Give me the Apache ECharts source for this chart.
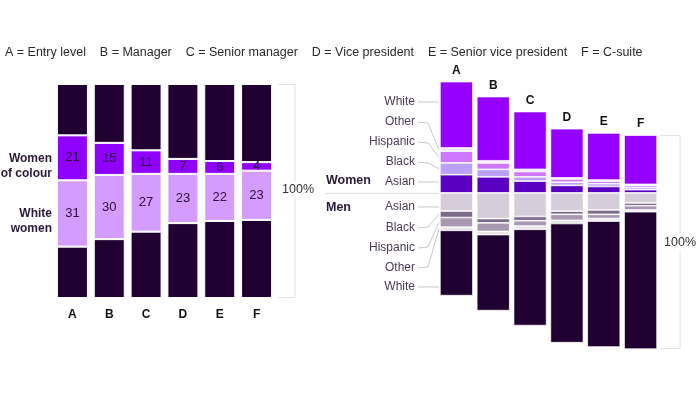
<!DOCTYPE html>
<html><head><meta charset="utf-8">
<script src="https://cdn.jsdelivr.net/npm/echarts@6/dist/echarts.min.js"></script>
<style>html,body{margin:0;padding:0;background:#fff}#c{width:698px;height:399px}</style>
</head><body><div id="c"></div>
<script>
// ---------- data ----------
const categories = ['A','B','C','D','E','F'];
const levelNames = ['Entry level','Manager','Senior manager','Vice president','Senior vice president','C-suite'];
// left chart (% of employees)
const womenOfColour = [21,15,11,7,6,4];
const whiteWomen = [31,30,27,23,22,23];
const menShare = [48,55,62,70,72,73];
// right chart: women by race (%)
const womenWhite = [31,30,27,23,22,23];
const womenOther = [1.5,1,1,0.5,0.5,0.5];
const womenHispanic = [5.5,3,2.5,1.5,1.2,1];
const womenBlack = [5.5,3.5,2,1.5,1.3,1];
const womenAsian = [8.5,7.5,5.5,3.5,3,1.5];
// right chart: men by race (%)
const menAsian = [8.5,12,11,8.5,8,4.7];
const menBlack = [3,2,2,1.5,2,1.3];
const menHispanic = [4.5,4,2.5,2.8,2,2];
const menOther = [1.5,1.5,1.5,1.5,1.2,0.8];
const menWhite = [30.5,35.5,45,55.7,58.8,64.2];
const totalLabel = '100%';

// ---------- styles ----------
const FONT = "'Liberation Sans', Arial, sans-serif";
const DARK = '#1f0030';
const C = {
  woc:'#9000ff', ww:'#d49cff',
  wWhite:'#9600ff', wOther:'#f1dcff', wHispanic:'#cd78ff', wBlack:'#bba0ff', wAsian:'#5a00c2',
  mAsian:'#d5cdd9', mBlack:'#7b6a88', mHispanic:'#a898b1', mOther:'#e7e1ea', mWhite:'#200030'
};
const LABEL_COL = '#4a3a5c';

const chart = echarts.init(document.getElementById('c'), null, {renderer:'canvas'});

const menHalf = menShare.map(v => v / 2);

function leftSeries(name, data, color, label) {
  return {
    name, type:'bar', stack:'L', xAxisIndex:0, yAxisIndex:0, barWidth:31,
    data, itemStyle:{color, borderColor:'#fff', borderWidth:1},
    label: label ? {show:true, position:'inside', color:'#2a0a40', fontSize:13, fontFamily:FONT} : {show:false},
    emphasis:{disabled:true}, animation:false
  };
}
function rightSeries(name, data, color, extra) {
  return Object.assign({
    name, type:'bar', stack:'R', xAxisIndex:1, yAxisIndex:1, barWidth:33,
    data, itemStyle:{color, borderColor:'#fff', borderWidth:0.7},
    emphasis:{disabled:true}, animation:false
  }, extra || {});
}
const neg = arr => arr.map(v => -v);

const option = {
  animation:false,
  textStyle:{fontFamily:FONT},
  title:{
    text: categories.map((c,i)=> c + ' = ' + levelNames[i]).join('    '),
    left:0, top:41,
    textStyle:{fontSize:12.5, fontWeight:'normal', color:'#2a2a2a', fontFamily:FONT}
  },
  grid:[
    {left:54, top:84, width:221, height:214},
    {left:438, top:64.5, width:221, height:299.6}
  ],
  xAxis:[
    {gridIndex:0, type:'category', data:categories,
     axisLine:{show:false}, axisTick:{show:false},
     axisLabel:{fontWeight:'bold', fontSize:12, color:'#111', margin:11, fontFamily:FONT}},
    {gridIndex:1, type:'category', data:categories, show:false}
  ],
  yAxis:[
    {gridIndex:0, type:'value', min:0, max:100, show:false},
    {gridIndex:1, type:'value', min:-80, max:60, show:false}
  ],
  series:[
    leftSeries('Men (lower)', menHalf, DARK),
    leftSeries('White women', whiteWomen, C.ww, true),
    leftSeries('Women of colour', womenOfColour, C.woc, true),
    leftSeries('Men (upper)', menHalf, DARK),

    rightSeries('Women Asian', womenAsian, C.wAsian),
    rightSeries('Women Black', womenBlack, C.wBlack),
    rightSeries('Women Hispanic', womenHispanic, C.wHispanic),
    rightSeries('Women Other', womenOther, C.wOther),
    rightSeries('Women White', womenWhite, C.wWhite, {
      label:{show:true, position:'top', distance:5, formatter:p=>p.name,
             fontWeight:'bold', fontSize:12, color:'#111', fontFamily:FONT}
    }),
    rightSeries('Men Asian', neg(menAsian), C.mAsian),
    rightSeries('Men Black', neg(menBlack), C.mBlack),
    rightSeries('Men Hispanic', neg(menHispanic), C.mHispanic),
    rightSeries('Men Other', neg(menOther), C.mOther),
    rightSeries('Men White', neg(menWhite), C.mWhite)
  ]
};
chart.setOption(option);

// ---------- annotations computed from the scales ----------
const px = (g, i, v) => chart.convertToPixel({gridIndex:g}, [i, v]);
const G = [];
const txt = (text, x, y, o) => G.push({type:'text', silent:true, z:10, style:Object.assign({
  text, x, y, fill:LABEL_COL, fontSize:12, fontFamily:FONT, textVerticalAlign:'middle'}, o || {})});
const line = (points, color) => G.push({type:'polyline', silent:true, z:5,
  shape:{points}, style:{stroke:color || '#c8c8c8', lineWidth:1, fill:null}});

// left side labels
txt('Women\nof colour', 52, 166, {textAlign:'right', fontWeight:'bold', fill:'#2a1a3a', lineHeight:15});
txt('White\nwomen', 52, 221, {textAlign:'right', fontWeight:'bold', fill:'#2a1a3a', lineHeight:15});

// left bracket
const last = categories.length - 1;
const lTop = px(0, last, 100), lBot = px(0, last, 0);
const lx0 = lTop[0] + 15.5 + 6, lx1 = lx0 + 17;
line([[lx0, lTop[1]+0.5],[lx1, lTop[1]+0.5],[lx1, lBot[1]-0.5],[lx0, lBot[1]-0.5]], '#e2e2e2');
txt(totalLabel, lx0 + 3, (lTop[1]+lBot[1])/2 - 1, {fill:'#333', fontSize:12.5, backgroundColor:'#fff', padding:[2,1]});

// right bracket
const womenTotF = womenOfColour[last] + whiteWomen[last];
const rTop = px(1, last, womenTotF), rBot = px(1, last, -menShare[last]);
const rx0 = rTop[0] + 16.5 + 3, rx1 = rx0 + 20;
line([[rx0, rTop[1]+0.5],[rx1, rTop[1]+0.5],[rx1, rBot[1]-0.5],[rx0, rBot[1]-0.5]], '#e2e2e2');
txt(totalLabel, rx0 + 3, (rTop[1]+rBot[1])/2, {fill:'#333', fontSize:12.5, backgroundColor:'#fff', padding:[2,1]});

// baseline + Women/Men
const base = px(1, 0, 0);
const barLeft = base[0] - 16.5;
line([[325, base[1]+0.5],[barLeft - 1, base[1]+0.5]], '#dcdcdc');
txt('Women', 326, 181, {fontWeight:'bold', fill:'#2a1a3a', fontSize:12.5});
txt('Men', 326, 208, {fontWeight:'bold', fill:'#2a1a3a', fontSize:12.5});

// race labels with leader lines to bar A
const womenOrder = [['Asian',womenAsian],['Black',womenBlack],['Hispanic',womenHispanic],['Other',womenOther],['White',womenWhite]];
const menOrder = [['Asian',menAsian],['Black',menBlack],['Hispanic',menHispanic],['Other',menOther],['White',menWhite]];
const womenLabelY = {White:102, Other:122, Hispanic:142, Black:162, Asian:182};
const menLabelY = {Asian:207, Black:228, Hispanic:248, Other:268, White:287};
function leaders(order, labelY, sign) {
  let cum = 0;
  order.forEach(([name, arr]) => {
    const a = cum, b = cum + arr[0] * sign;
    cum = b;
    const y1 = px(1, 0, a)[1], y2 = px(1, 0, b)[1];
    const top = Math.min(y1,y2), bot = Math.max(y1,y2);
    const ly = labelY[name];
    const ty = (ly > top + 1.5 && ly < bot - 1.5) ? ly : (top + bot) / 2;
    txt(name, 415, ly, {textAlign:'right'});
    if (Math.abs(ty - ly) < 3) line([[418, ly], [barLeft - 1, ty]]);
    else line([[418, ly], [428, ly + (ty > ly ? 1 : -1)], [barLeft - 1, ty]]);
  });
}
leaders(womenOrder, womenLabelY, 1);
leaders(menOrder, menLabelY, -1);

chart.setOption({graphic: G});
</script></body></html>
